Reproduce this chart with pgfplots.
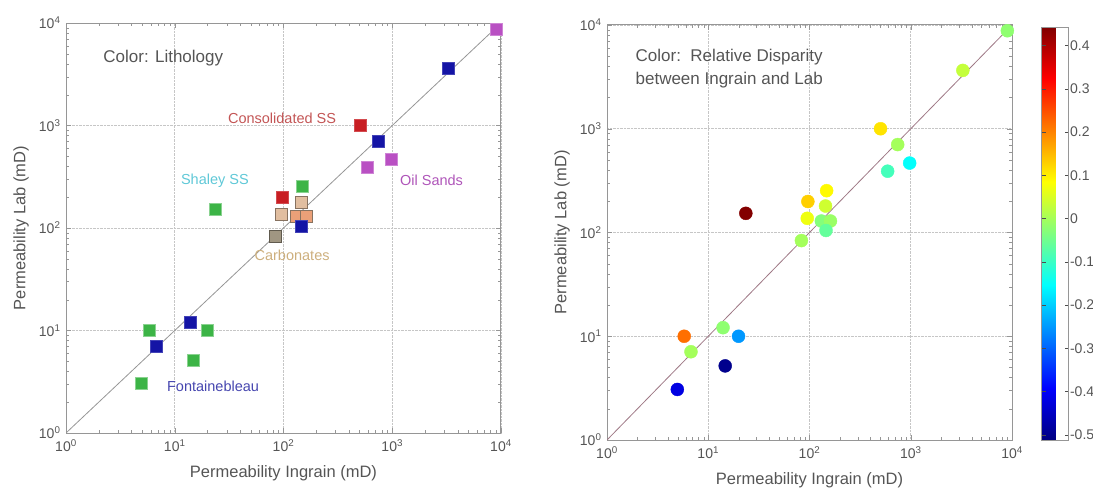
\documentclass[border=0pt]{standalone}
\usepackage{fontspec}
\setmainfont{Liberation Sans}
\usepackage{pgfplots}
\usepackage{pgfplotstable}
\pgfplotsset{compat=1.18}

\definecolor{txtgray}{RGB}{85,85,85}
\definecolor{framegray}{RGB}{150,150,150}
\definecolor{fbblue}{RGB}{20,20,165}
\definecolor{shgreen}{RGB}{60,180,70}
\definecolor{ssred}{RGB}{200,30,35}
\definecolor{oilpurple}{RGB}{185,80,195}
\definecolor{carbtan}{RGB}{225,190,160}
\definecolor{carborange}{RGB}{235,160,120}
\definecolor{carbdark}{RGB}{160,150,130}

% x = ingrain, y = lab, c = lithology class, d = relative disparity
\pgfplotstableread{
x      y      c  d
9000   8800   p  -0.02
3270   3650   b  0.03
503    1000   r  0.11
743    704    b  0.00
975    467    p  -0.15
591    390    p  -0.09
147.6  253    g  0.09
96.4   199    r  0.13
144    180    t  0.04
23.5   153    g  0.44
95     137    t  0.07
131    129    o  -0.03
161    129    o  -0.01
145.5  104.6  b  -0.06
83.2   83.6   k  0.00
14.0   12.1   b  -0.02
5.79   10     g  0.22
19.9   10     g  -0.25
6.75   7.09   b  0.00
14.7   5.18   g  -0.50
4.95   3.07   g  -0.42
}\perm

\begin{document}
\begin{tikzpicture}
\useasboundingbox (0pt,0pt) rectangle (1093pt,491pt);

% left: colour by lithology
\begin{axis}[
  at={(66pt,58pt)}, anchor=south west,
  scale only axis, width=435pt, height=410pt,
  xmode=log, ymode=log,
  xmin=1, xmax=10000, ymin=1, ymax=10000,
  xtick={1,10,100,1000,10000},
  ytick={1,10,100,1000,10000},
  xticklabels={10\textsuperscript{0},10\textsuperscript{1},10\textsuperscript{2},10\textsuperscript{3},10\textsuperscript{4}},
  yticklabels={10\textsuperscript{0},10\textsuperscript{1},10\textsuperscript{2},10\textsuperscript{3},10\textsuperscript{4}},
  tick align=inside, tick pos=both,
  major tick length=5pt, minor tick length=3pt,
  tick style={framegray},
  axis line style={framegray, line width=1pt},
  grid=major,
  major grid style={densely dotted, gray!45, line width=0.8pt},
  tick label style={font=\fontsize{14}{16}\selectfont, text=txtgray},
  xticklabel style={yshift=-3pt},
  yticklabel style={xshift=-2pt},
  xlabel={Permeability Ingrain (mD)},
  ylabel={Permeability Lab (mD)},
  every axis x label/.style={at={([yshift=-40pt]axis description cs:0.5,0)}, anchor=center,
    font=\fontsize{16.5}{18}\selectfont, text=txtgray},
  every axis y label/.style={at={([xshift=-45pt]axis description cs:0,0.5)}, anchor=center, rotate=90,
    font=\fontsize{16.5}{18}\selectfont, text=txtgray},
]
\addplot[framegray, line width=0.8pt] coordinates {(1,1) (10000,10000)};
\addplot[scatter, only marks, mark=square*, mark size=6pt,
  point meta=explicit symbolic,
  scatter/classes={
    b={fill=fbblue, draw=fbblue!80!white},
    g={fill=shgreen, draw=shgreen!60!white},
    r={fill=ssred, draw=ssred!80!white},
    p={fill=oilpurple, draw=oilpurple!70!white},
    t={fill=carbtan, draw=carbtan!60!black},
    o={fill=carborange, draw=carbtan!60!black},
    k={fill=carbdark, draw=carbdark!60!black}}]
  table[x=x, y=y, meta=c] {\perm};
\node[anchor=west, font=\fontsize{17}{19}\selectfont, text=txtgray] at (axis cs:2.05,4560) {Color: Lithology};
\node[font=\fontsize{14.5}{16}\selectfont, text={rgb,255:red,195;green,85;blue,85}] at (axis cs:97,1183) {Consolidated SS};
\node[font=\fontsize{14.5}{16}\selectfont, text={rgb,255:red,95;green,200;blue,215}] at (axis cs:23.4,290) {Shaley SS};
\node[font=\fontsize{14.5}{16}\selectfont, text={rgb,255:red,175;green,85;blue,185}] at (axis cs:2300,294) {Oil Sands};
\node[font=\fontsize{14.5}{16}\selectfont, text={rgb,255:red,205;green,175;blue,125}] at (axis cs:120,54.5) {Carbonates};
\node[font=\fontsize{14.5}{16}\selectfont, text={rgb,255:red,70;green,70;blue,175}] at (axis cs:22.5,2.87) {Fontainebleau};
\end{axis}

% right: colour by relative disparity
\begin{axis}[
  at={(607pt,51pt)}, anchor=south west,
  scale only axis, width=405pt, height=415pt,
  xmode=log, ymode=log,
  xmin=1, xmax=10000, ymin=1, ymax=10000,
  xtick={1,10,100,1000,10000},
  ytick={1,10,100,1000,10000},
  xticklabels={10\textsuperscript{0},10\textsuperscript{1},10\textsuperscript{2},10\textsuperscript{3},10\textsuperscript{4}},
  yticklabels={10\textsuperscript{0},10\textsuperscript{1},10\textsuperscript{2},10\textsuperscript{3},10\textsuperscript{4}},
  tick align=inside, tick pos=both,
  major tick length=5pt, minor tick length=3pt,
  tick style={framegray},
  axis line style={framegray, line width=1pt},
  grid=major,
  major grid style={densely dotted, gray!45, line width=0.8pt},
  tick label style={font=\fontsize{14}{16}\selectfont, text=txtgray},
  xticklabel style={yshift=-3pt},
  yticklabel style={xshift=-2pt},
  xlabel={Permeability Ingrain (mD)},
  ylabel={Permeability Lab (mD)},
  every axis x label/.style={at={([yshift=-40pt]axis description cs:0.5,0)}, anchor=center,
    font=\fontsize{16.5}{18}\selectfont, text=txtgray},
  every axis y label/.style={at={([xshift=-45pt]axis description cs:0,0.5)}, anchor=center, rotate=90,
    font=\fontsize{16.5}{18}\selectfont, text=txtgray},
  colormap/jet,
  point meta min=-0.512, point meta max=0.443,
  colorbar,
  colorbar style={
    at={(parent axis.south east)}, anchor=south west, xshift=21pt,
    width=27pt, height=413pt,
    ymode=normal, xmode=normal,
    ytick={-0.5,-0.4,-0.3,-0.2,-0.1,0,0.1,0.2,0.3,0.4},
    yticklabels={-0.5,-0.4,-0.3,-0.2,-0.1,0,0.1,0.2,0.3,0.4},
    yticklabel pos=right,
    tick align=inside, ytick pos=both,
    major tick length=4pt, minor tick length=0pt,
    tick style={black!70},
    grid=none,
    axis line style={framegray},
    yticklabel style={font=\fontsize{14}{16}\selectfont, text=txtgray, xshift=-2pt},
  }]
\addplot[framegray!80!purple, line width=0.8pt] coordinates {(1,1) (10000,10000)};
\addplot[scatter, only marks, mark=*, mark size=6.5pt,
  point meta=explicit,
  scatter/use mapped color={draw=mapped color, fill=mapped color}]
  table[x=x, y=y, meta=d] {\perm};
\node[anchor=north west, align=left, font=\fontsize{17}{23}\selectfont, text=txtgray] at (axis cs:1.77,6270) {Color:\ \ Relative Disparity\\between Ingrain and Lab};
\end{axis}
\end{tikzpicture}
\end{document}
